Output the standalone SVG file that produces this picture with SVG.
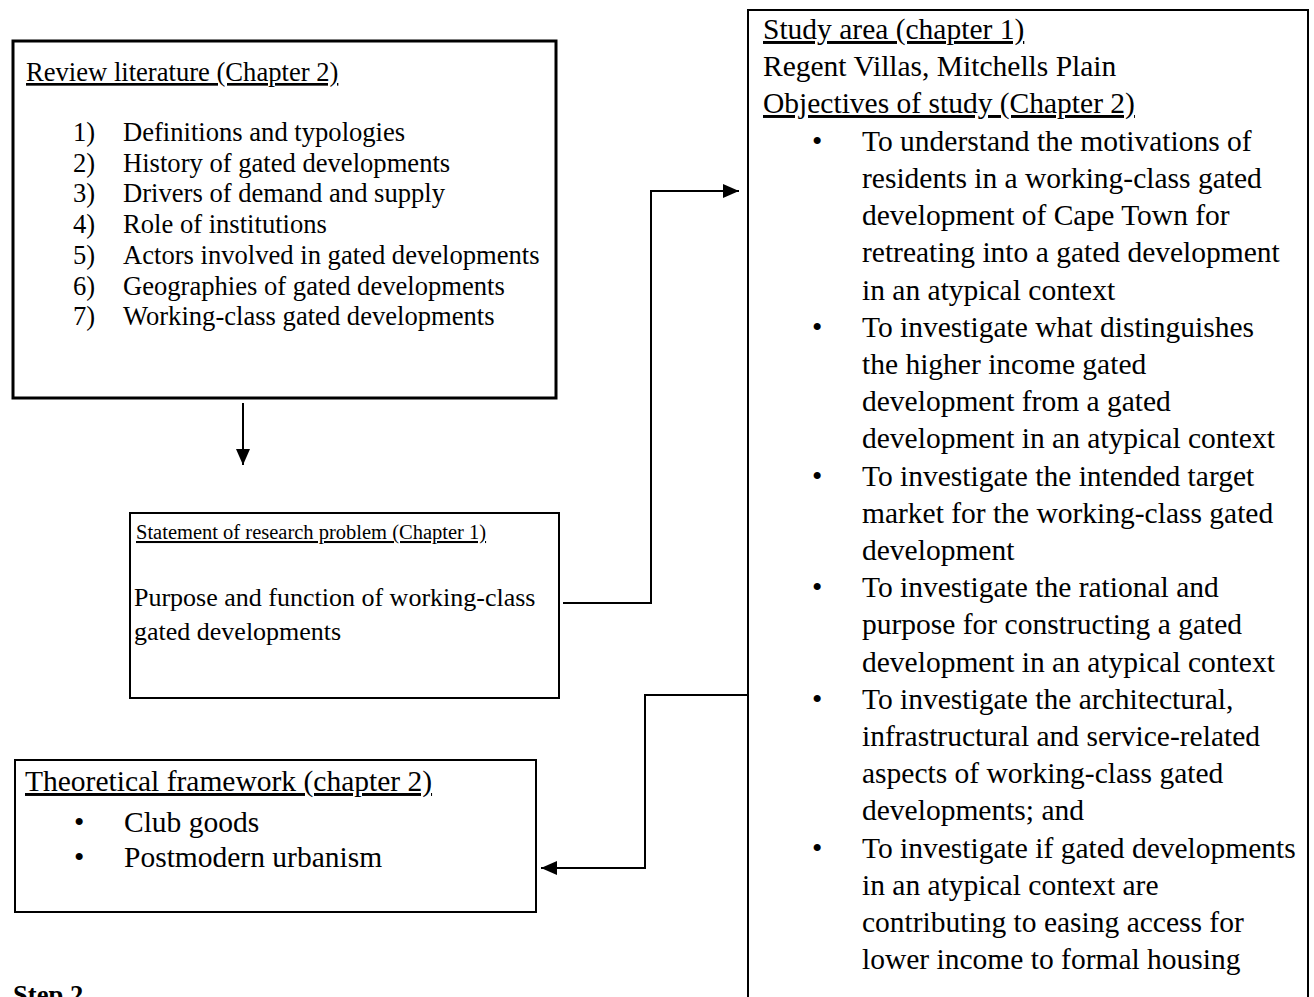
<svg xmlns="http://www.w3.org/2000/svg" width="1314" height="997" viewBox="0 0 1314 997" font-family="'Liberation Serif', 'Times New Roman', serif">
<defs>
<marker id="arrow" markerUnits="userSpaceOnUse" markerWidth="16" markerHeight="14" refX="16" refY="7" orient="auto">
<path d="M0,0 L16,7 L0,14 Z" fill="#000"/>
</marker>
<style>
.t{font-family:"Liberation Serif","Times New Roman",serif;fill:#000}
.u{text-decoration:underline}
.box{fill:#fff;stroke:#000;stroke-width:2}
.conn{fill:none;stroke:#000;stroke-width:2}
</style>
</defs>
<rect width="1314" height="997" fill="#fff"/>

<g id="review">
<rect class="box" x="13" y="41" width="543" height="357" style="stroke-width:3"/>
<text class="t u" x="26" y="81" font-size="26.6">Review literature (Chapter 2)</text>
<g class="t" font-size="26.6">
<text x="73" y="141">1)</text><text x="123" y="141">Definitions and typologies</text>
<text x="73" y="172">2)</text><text x="123" y="172">History of gated developments</text>
<text x="73" y="202">3)</text><text x="123" y="202">Drivers of demand and supply</text>
<text x="73" y="233">4)</text><text x="123" y="233">Role of institutions</text>
<text x="73" y="264">5)</text><text x="123" y="264">Actors involved in gated developments</text>
<text x="73" y="295">6)</text><text x="123" y="295">Geographies of gated developments</text>
<text x="73" y="325">7)</text><text x="123" y="325">Working-class gated developments</text>
</g>
</g>

<g id="problem">
<rect class="box" x="130" y="513" width="429" height="185"/>
<text class="t u" x="136" y="539" font-size="20.5">Statement of research problem (Chapter 1)</text>
<text class="t" x="134" y="606" font-size="26">Purpose and function of working-class</text>
<text class="t" x="134" y="640" font-size="26">gated developments</text>
</g>

<g id="theory">
<rect class="box" x="15" y="760" width="521" height="152"/>
<text class="t u" x="25" y="791" font-size="29.5">Theoretical framework (chapter 2)</text>
<text class="t" x="74" y="832" font-size="29.5">•</text>
<text class="t" x="124" y="832" font-size="29.5">Club goods</text>
<text class="t" x="74" y="867" font-size="29.5">•</text>
<text class="t" x="124" y="867" font-size="29.5">Postmodern urbanism</text>
</g>

<g id="study">
<rect class="box" x="748" y="10" width="560" height="1000"/>
<g class="t" font-size="29.5">
<text class="u" x="763" y="39">Study area (chapter 1)</text>
<text x="763" y="76">Regent Villas, Mitchells Plain</text>
<text class="u" x="763" y="113">Objectives of study (Chapter 2)</text>
<text x="812" y="151">•</text>
<text x="862" y="151">To understand the motivations of</text>
<text x="862" y="188">residents in a working-class gated</text>
<text x="862" y="225">development of Cape Town for</text>
<text x="862" y="262">retreating into a gated development</text>
<text x="862" y="300">in an atypical context</text>
<text x="812" y="337">•</text>
<text x="862" y="337">To investigate what distinguishes</text>
<text x="862" y="374">the higher income gated</text>
<text x="862" y="411">development from a gated</text>
<text x="862" y="448">development in an atypical context</text>
<text x="812" y="486">•</text>
<text x="862" y="486">To investigate the intended target</text>
<text x="862" y="523">market for the working-class gated</text>
<text x="862" y="560">development</text>
<text x="812" y="597">•</text>
<text x="862" y="597">To investigate the rational and</text>
<text x="862" y="634">purpose for constructing a gated</text>
<text x="862" y="672">development in an atypical context</text>
<text x="812" y="709">•</text>
<text x="862" y="709">To investigate the architectural,</text>
<text x="862" y="746">infrastructural and service-related</text>
<text x="862" y="783">aspects of working-class gated</text>
<text x="862" y="820">developments; and</text>
<text x="812" y="858">•</text>
<text x="862" y="858">To investigate if gated developments</text>
<text x="862" y="895">in an atypical context are</text>
<text x="862" y="932">contributing to easing access for</text>
<text x="862" y="969">lower income to formal housing</text>
</g>
</g>

<g id="step2">
<text class="t" x="13" y="1004" font-size="26.6" font-weight="bold">Step 2</text>
</g>

<g id="connectors">
<line class="conn" x1="243" y1="403" x2="243" y2="465" marker-end="url(#arrow)"/>
<polyline class="conn" points="563,603 651,603 651,191 739,191" marker-end="url(#arrow)"/>
<polyline class="conn" points="748,695 645,695 645,868 541,868" marker-end="url(#arrow)"/>
</g>
</svg>
